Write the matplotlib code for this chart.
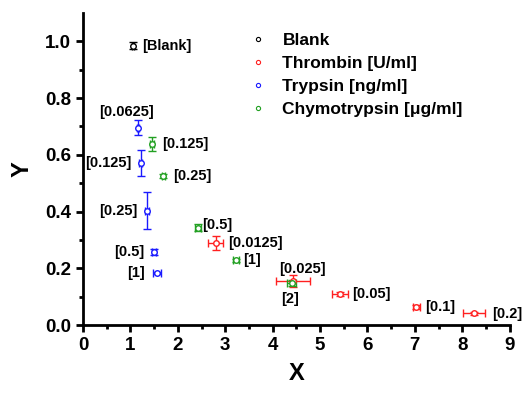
import matplotlib
matplotlib.use('Agg')
import matplotlib.pyplot as plt
from matplotlib.lines import Line2D

plt.rcParams['font.family'] = ['Liberation Sans', 'DejaVu Sans']
plt.rcParams['font.weight'] = 'bold'

# Blank
blank_x = [1.05]
blank_y = [0.985]
blank_xerr = [0.02]
blank_yerr = [0.012]
blank_labels = ['[Blank]']

# Thrombin [U/ml]
thr_x = [2.8, 4.43, 5.42, 7.03, 8.25]
thr_y = [0.29, 0.155, 0.11, 0.064, 0.042]
thr_xerr = [0.16, 0.35, 0.16, 0.08, 0.23]
thr_yerr = [0.025, 0.02, 0.008, 0.006, 0.005]
thr_labels = ['[0.0125]', '[0.025]', '[0.05]', '[0.1]', '[0.2]']

# Trypsin [ng/ml]
try_x = [1.16, 1.22, 1.35, 1.5, 1.56]
try_y = [0.696, 0.572, 0.403, 0.258, 0.184]
try_xerr = [0.03, 0.03, 0.05, 0.05, 0.08]
try_yerr = [0.025, 0.046, 0.065, 0.01, 0.004]
try_labels = ['[0.0625]', '[0.125]', '[0.25]', '[0.5]', '[1]']

# Chymotrypsin [ug/ml]
chy_x = [1.46, 1.69, 2.43, 3.23, 4.4]
chy_y = [0.638, 0.526, 0.343, 0.228, 0.147]
chy_xerr = [0.04, 0.03, 0.06, 0.06, 0.1]
chy_yerr = [0.025, 0.006, 0.012, 0.006, 0.01]
chy_labels = ['[0.125]', '[0.25]', '[0.5]', '[1]', '[2]']

fig = plt.figure(figsize=(5.25, 3.93), dpi=100)
ax = fig.add_axes([0.158, 0.173, 0.813, 0.794])

def draw(xs, ys, xe, ye, color):
    ax.errorbar(xs, ys, xerr=xe, yerr=ye, fmt='o', color=color, mfc='white',
                ms=4, mew=1, elinewidth=1, capsize=3, capthick=1)

draw(blank_x, blank_y, blank_xerr, blank_yerr, 'black')
draw(thr_x, thr_y, thr_xerr, thr_yerr, '#ff2020')
draw(try_x, try_y, try_xerr, try_yerr, '#1a1aff')
draw(chy_x, chy_y, chy_xerr, chy_yerr, '#22a022')

# label offsets in points (dx, dy, ha)
R = (7, 0, 'left')
L = (-7, 0, 'right')
blank_off = [R]
thr_off = [(9, 0, 'left'), (7, 9, 'center'), (9, 0, 'left'), (6, 0, 'left'), (13, -1, 'left')]
try_off = [(-8, 11, 'center'), L, L, L, (-9, 0, 'right')]
chy_off = [R, R, (3, 2, 'left'), (5, 0, 'left'), (-1, -11, 'center')]

def labels(xs, ys, texts, offs):
    for x, y, t, (dx, dy, ha) in zip(xs, ys, texts, offs):
        ax.annotate(t, (x, y), xytext=(dx, dy), textcoords='offset points',
                    ha=ha, va='center', fontsize=10.5, fontweight='bold')

labels(blank_x, blank_y, blank_labels, blank_off)
labels(thr_x, thr_y, thr_labels, thr_off)
labels(try_x, try_y, try_labels, try_off)
labels(chy_x, chy_y, chy_labels, chy_off)

handles = [Line2D([], [], marker='o', ls='none', color=c, mfc='white', ms=3, mew=0.8)
           for c in ['black', '#ff2020', '#1a1aff', '#22a022']]
ax.legend(handles, ['Blank', 'Thrombin [U/ml]', 'Trypsin [ng/ml]', 'Chymotrypsin [\u03bcg/ml]'],
          loc='upper left', bbox_to_anchor=(0.39, 0.935), frameon=False,
          fontsize=12.5, handlelength=1, handletextpad=0.9, labelspacing=0.45,
          borderpad=0, borderaxespad=0)

ax.set_xlim(0, 9)
ax.set_ylim(0, 1.1)
ax.set_xticks(range(0, 10))
ax.set_xticks([i + 0.5 for i in range(9)], minor=True)
ax.set_yticks([0, 0.2, 0.4, 0.6, 0.8, 1.0])
ax.set_yticks([0.1, 0.3, 0.5, 0.7, 0.9], minor=True)
ax.spines['top'].set_visible(False)
ax.spines['right'].set_visible(False)
for s in ['left', 'bottom']:
    ax.spines[s].set_linewidth(2)
ax.tick_params(which='major', direction='out', length=5, width=2, labelsize=13.5)
ax.tick_params(which='minor', direction='out', length=3, width=2)
for lab in ax.get_xticklabels() + ax.get_yticklabels():
    lab.set_fontweight('bold')
ax.set_xlabel('X', fontsize=17, fontweight='bold', labelpad=6)
ax.set_ylabel('Y', fontsize=17, fontweight='bold', labelpad=8)

fig.savefig('out.png', dpi=100)
